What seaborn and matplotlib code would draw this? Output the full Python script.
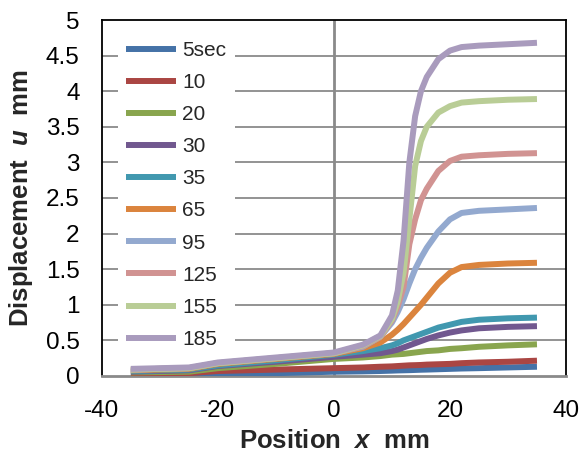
import numpy as np
import pandas as pd
import matplotlib
matplotlib.use("Agg")
import matplotlib.pyplot as plt
import seaborn as sns

# Measurement positions (mm) shared by all time steps
position = [-35, -25, -20, -10, 0, 5, 8, 10, 11, 12, 13, 14, 15, 16, 18, 20, 22, 25, 30, 35]

# Time-step labels
times = ["5sec", "10", "20", "30", "35", "65", "95", "125", "155", "185"]

# Displacement u (mm) for each time step
u_5   = [0.01, 0.02, 0.03, 0.04, 0.06, 0.065, 0.07, 0.075, 0.078, 0.08, 0.082, 0.085, 0.088, 0.09, 0.095, 0.10, 0.105, 0.11, 0.12, 0.13]
u_10  = [0.03, 0.04, 0.07, 0.09, 0.11, 0.12, 0.13, 0.135, 0.14, 0.145, 0.15, 0.152, 0.155, 0.16, 0.165, 0.17, 0.18, 0.19, 0.20, 0.215]
u_20  = [0.05, 0.06, 0.11, 0.17, 0.24, 0.26, 0.28, 0.30, 0.305, 0.31, 0.32, 0.33, 0.34, 0.35, 0.36, 0.38, 0.39, 0.41, 0.43, 0.445]
u_30  = [0.06, 0.08, 0.14, 0.20, 0.27, 0.30, 0.32, 0.35, 0.37, 0.40, 0.43, 0.46, 0.49, 0.52, 0.57, 0.61, 0.64, 0.67, 0.69, 0.70]
u_35  = [0.07, 0.09, 0.15, 0.22, 0.30, 0.35, 0.39, 0.43, 0.46, 0.50, 0.53, 0.56, 0.59, 0.62, 0.68, 0.72, 0.76, 0.79, 0.81, 0.82]
u_65  = [0.08, 0.10, 0.17, 0.24, 0.31, 0.39, 0.47, 0.58, 0.65, 0.73, 0.82, 0.91, 1.00, 1.10, 1.30, 1.45, 1.53, 1.56, 1.58, 1.59]
u_95  = [0.09, 0.11, 0.18, 0.25, 0.32, 0.41, 0.55, 0.75, 0.90, 1.08, 1.30, 1.50, 1.66, 1.80, 2.03, 2.20, 2.29, 2.32, 2.34, 2.36]
u_125 = [0.09, 0.11, 0.18, 0.25, 0.32, 0.42, 0.55, 0.78, 0.98, 1.25, 1.85, 2.20, 2.47, 2.63, 2.88, 3.02, 3.08, 3.10, 3.12, 3.13]
u_155 = [0.09, 0.11, 0.18, 0.25, 0.32, 0.43, 0.56, 0.80, 1.05, 1.45, 2.20, 2.95, 3.30, 3.50, 3.70, 3.79, 3.84, 3.86, 3.88, 3.89]
u_185 = [0.10, 0.12, 0.19, 0.26, 0.33, 0.44, 0.57, 0.85, 1.20, 1.90, 3.00, 3.65, 4.00, 4.20, 4.45, 4.57, 4.62, 4.64, 4.66, 4.68]

series = [u_5, u_10, u_20, u_30, u_35, u_65, u_95, u_125, u_155, u_185]

colors = ["#4572A7", "#AA4643", "#89A54E", "#71588F", "#4198AF",
          "#DB843D", "#93A9CF", "#D19392", "#B9CD96", "#A99BBD"]

x_ticks = [-40, -20, 0, 20, 40]
y_ticks = [0, 0.5, 1, 1.5, 2, 2.5, 3, 3.5, 4, 4.5, 5]

sns.set_theme(style="white")
plt.rcParams["font.family"] = ["Liberation Sans", "DejaVu Sans"]
plt.rcParams["axes.unicode_minus"] = False
plt.rcParams["mathtext.fontset"] = "custom"
plt.rcParams["mathtext.it"] = "Liberation Sans:bold:italic"
plt.rcParams["mathtext.rm"] = "Liberation Sans:bold"
plt.rcParams["mathtext.bf"] = "Liberation Sans:bold"

df = pd.DataFrame({
    "x": np.tile(position, len(times)),
    "u": np.concatenate(series),
    "time": np.repeat(times, len(position)),
})

fig = plt.figure(figsize=(5.79, 4.61), dpi=100)
ax = fig.add_axes([0.176, 0.1844, 0.8015, 0.7722])

grid_c = "#8a8a8a"
for yv in y_ticks[1:-1]:
    ax.axhline(yv, color=grid_c, lw=1.3, zorder=1)
ax.axvline(0, color=grid_c, lw=2.0, zorder=1)

for name, col in zip(times, colors):
    sub = df[df["time"] == name]
    sns.lineplot(data=sub, x="x", y="u", color=col, lw=4.3, label=name,
                 ax=ax, zorder=3, solid_capstyle="butt", solid_joinstyle="round")

ax.set_xlim(-40, 40)
ax.set_ylim(0, 5)
ax.set_xticks(x_ticks)
ax.set_yticks(y_ticks)
ax.set_yticklabels([f"{v:g}" for v in y_ticks])
ax.tick_params(axis="both", length=0, labelsize=17.5, colors="black")
ax.tick_params(axis="x", pad=17)
ax.tick_params(axis="y", pad=16)

for side in ["left", "top", "right"]:
    ax.spines[side].set_color("black")
    ax.spines[side].set_linewidth(1.3)
ax.spines["bottom"].set_color(grid_c)
ax.spines["bottom"].set_linewidth(2.0)

ax.set_xlabel(r"Position  $x$  mm", fontsize=18.5, fontweight="bold", labelpad=5)
ax.set_ylabel(r"Displacement  $u$  mm", fontsize=18.5, fontweight="bold", labelpad=8)

# White legend box sits above the gridlines but below the data lines
leg = ax.legend(loc="upper left", bbox_to_anchor=(0.0345, 0.965), borderaxespad=0,
                fontsize=15, handlelength=2.4, handletextpad=0.3, labelspacing=0.63,
                frameon=True, facecolor="white", edgecolor="none", framealpha=1,
                borderpad=0.4, fancybox=False)
leg.set_zorder(2)
for h in leg.legend_handles:
    h.set_linewidth(4.3)

fig.savefig("out.png", dpi=100)
